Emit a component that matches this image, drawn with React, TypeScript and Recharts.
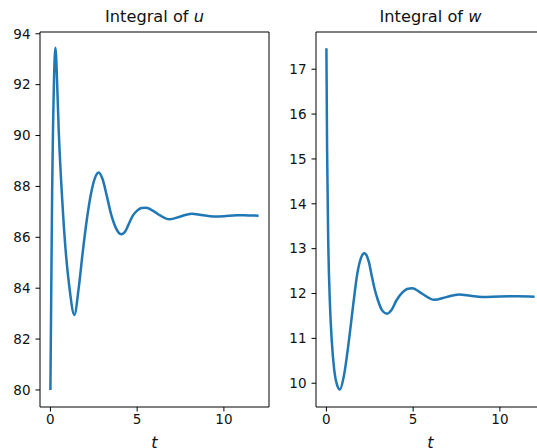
import React from 'react';
import { LineChart, Line, XAxis, YAxis, ReferenceArea } from 'recharts';

// values
const tU = [0, 0.05, 0.1, 0.15, 0.2, 0.25, 0.29, 0.33, 0.4, 0.48, 0.67, 0.9, 1.1, 1.38, 1.63, 1.86, 2.1, 2.35, 2.55, 2.78, 3.0, 3.26, 3.5, 3.75, 4.08, 4.3, 4.5, 4.75, 5.0, 5.25, 5.52, 5.9, 6.32, 6.86, 7.5, 8.14, 8.7, 9.4, 10.0, 10.73, 11.4, 12.0];
const intU = [80, 84, 87.8, 90.3, 92.0, 93.1, 93.45, 93.1, 91.8, 90.2, 87.6, 85.3, 84.0, 82.95, 84.0, 85.4, 86.7, 87.75, 88.3, 88.55, 88.3, 87.6, 86.9, 86.4, 86.12, 86.22, 86.5, 86.85, 87.05, 87.15, 87.16, 87.05, 86.86, 86.71, 86.82, 86.93, 86.88, 86.82, 86.83, 86.87, 86.86, 86.85];

const tW = [0, 0.04, 0.1, 0.2, 0.3, 0.45, 0.6, 0.78, 1.0, 1.3, 1.53, 1.78, 2.0, 2.18, 2.3, 2.45, 2.6, 2.78, 2.97, 3.2, 3.5, 3.75, 4.04, 4.4, 4.65, 4.95, 5.5, 6.22, 6.9, 7.64, 8.3, 8.97, 10.0, 11.0, 12.0];
const intW = [17.47, 15.2, 13.3, 11.8, 11.0, 10.3, 9.98, 9.86, 10.15, 10.96, 11.7, 12.44, 12.8, 12.9, 12.86, 12.7, 12.42, 12.1, 11.85, 11.63, 11.55, 11.63, 11.85, 12.03, 12.1, 12.12, 12.0, 11.86, 11.92, 11.98, 11.95, 11.92, 11.935, 11.94, 11.93];

const xTicks = [0, 5, 10];
const uTicks = [80, 82, 84, 86, 88, 90, 92, 94];
const wTicks = [10, 11, 12, 13, 14, 15, 16, 17];

const xDomain: [number, number] = [-0.6, 12.6];
const uDomain: [number, number] = [79.33, 94.07];
const wDomain: [number, number] = [9.47, 17.83];

const FONT = 'DejaVu Sans';
const tickStyle = { fill: '#111', fontSize: 13.5, fontFamily: FONT };

function Panel({ t, v, yDomain, yTicks, left }: any) {
  const data = t.map((x: number, i: number) => ({ t: x, v: v[i] }));
  return (
    <div style={{ position: 'absolute', left, top: 0, width: 280, height: 448 }}>
      <LineChart width={280} height={448} data={data} margin={{ top: 32, right: 11, bottom: 0, left: 0 }}>
        <XAxis
          type="number"
          dataKey="t"
          domain={xDomain}
          ticks={xTicks}
          allowDataOverflow
          height={41}
          axisLine={false}
          tickSize={4.5}
          tickMargin={3}
          tickLine={{ stroke: '#000' }}
          tick={tickStyle}
          label={{ value: 't', position: 'insideBottom', offset: 0, fill: '#111', fontSize: 16, fontStyle: 'italic', fontFamily: FONT }}
        />
        <YAxis
          type="number"
          domain={yDomain}
          ticks={yTicks}
          allowDataOverflow
          width={40}
          axisLine={false}
          tickSize={4.5}
          tickMargin={5}
          tickLine={{ stroke: '#000' }}
          tick={tickStyle}
        />
        <ReferenceArea x1={xDomain[0]} x2={xDomain[1]} y1={yDomain[0]} y2={yDomain[1]} fill="none" fillOpacity={0} stroke="#000" strokeWidth={1} strokeOpacity={1} ifOverflow="visible" />
        <Line type="monotone" dataKey="v" stroke="#1f77b4" strokeWidth={2.5} dot={false} isAnimationActive={false} />
      </LineChart>
    </div>
  );
}

export default function App() {
  return (
    <div style={{ position: 'absolute', left: 0, top: 0, width: 537, height: 448, overflow: 'hidden', background: '#fff' }}>
      <Panel t={tU} v={intU} yDomain={uDomain} yTicks={uTicks} left={0} />
      <Panel t={tW} v={intW} yDomain={wDomain} yTicks={wTicks} left={276} />
      <svg width={537} height={448} style={{ position: 'absolute', left: 0, top: 0, pointerEvents: 'none' }}>
        <text x={154.5} y={22} textAnchor="middle" fontSize={16.2} fontFamily={FONT} fill="#111">
          Integral of <tspan fontStyle="italic">u</tspan>
        </text>
        <text x={430.5} y={22} textAnchor="middle" fontSize={16.2} fontFamily={FONT} fill="#111">
          Integral of <tspan fontStyle="italic">w</tspan>
        </text>
      </svg>
    </div>
  );
}
